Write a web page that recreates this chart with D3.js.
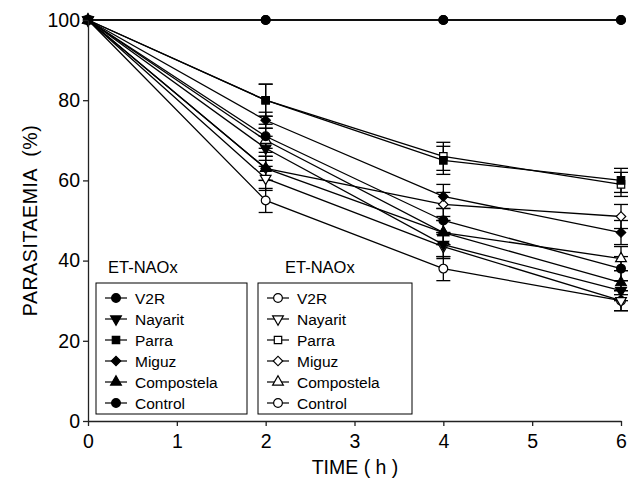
<!DOCTYPE html>
<html>
<head>
<meta charset="utf-8">
<script src="https://cdn.jsdelivr.net/npm/d3@7"></script>
<style>
  body { margin: 0; background: #fff; }
  text { font-family: "Liberation Sans", Arial, sans-serif; }
</style>
</head>
<body>
<div id="chart"></div>
<script>
// time points (h)
const times = [0, 2, 4, 6];
const names = ["V2R", "Nayarit", "Parra", "Miguz", "Compostela", "Control"];

// ET-NAOx filled markers
const filledV2R = [100, 71, 50, 38];
const filledNayarit = [100, 68, 44, 32.5];
const filledParra = [100, 80, 65, 60];
const filledMiguz = [100, 75, 56, 47];
const filledCompostela = [100, 63, 47, 34.5];
const filledControl = [100, 100, 100, 100];
// ET-NAOx open markers
const openV2R = [100, 55, 38, 30];
const openNayarit = [100, 60.5, 43.5, 30];
const openParra = [100, 80, 66, 59];
const openMiguz = [100, 63, 54, 51];
const openCompostela = [100, 70, 47, 40.5];
const openControl = [100, 100, 100, 100];
// error (+/-)
const errFilled = [[0, 3, 3, 3], [0, 3, 3, 2.5], [0, 4, 3.5, 3], [0, 2, 3, 3], [0, 3, 3, 3], [0, 0, 0, 0]];
const errOpen = [[0, 3, 3, 2.5], [0, 3, 3, 2.5], [0, 4, 3.5, 3], [0, 3, 3, 3], [0, 3, 3, 3], [0, 0, 0, 0]];

const yTicks = [0, 20, 40, 60, 80, 100];
const xTicks = [0, 1, 2, 3, 4, 5, 6];

const W = 630, H = 479;
const m = {l: 88, r: 9, t: 20, b: 58};

const svg = d3.select("#chart").append("svg")
  .attr("width", W).attr("height", H);

const x = d3.scaleLinear().domain([0, 6]).range([m.l, W - m.r]);
const y = d3.scaleLinear().domain([0, 100]).range([H - m.b, m.t]);

// "down" = rotated triangle, "diamond" = square turned 45deg
const shapes = [d3.symbolCircle, "down", d3.symbolSquare, "diamond", d3.symbolTriangle, d3.symbolCircle];
const sizes = [60, 50, 55, 45, 50, 60];

function rot(i) {
  return shapes[i] === "down" ? " rotate(180)" : shapes[i] === "diamond" ? " rotate(45)" : "";
}

function marker(sel, i, open) {
  const t = shapes[i];
  const type = t === "down" ? d3.symbolTriangle : t === "diamond" ? d3.symbolSquare : t;
  return sel.append("path")
    .attr("d", d3.symbol().type(type).size(sizes[i])())
    .attr("fill", open ? "#fff" : "#000")
    .attr("stroke", "#000").attr("stroke-width", 1.2);
}

const filled = [filledV2R, filledNayarit, filledParra, filledMiguz, filledCompostela, filledControl];
const open = [openV2R, openNayarit, openParra, openMiguz, openCompostela, openControl];

const series = [];
open.forEach((v, i) => series.push({v, i, open: true, err: errOpen[i]}));
filled.forEach((v, i) => series.push({v, i, open: false, err: errFilled[i]}));

const line = d3.line().x((d, k) => x(times[k])).y(d => y(d));

// lines
series.forEach(s => {
  svg.append("path").attr("d", line(s.v))
    .attr("fill", "none").attr("stroke", "#000").attr("stroke-width", 1.3);
});

// error bars
series.forEach(s => {
  s.v.forEach((d, k) => {
    const e = s.err[k];
    if (!e) return;
    const cx = x(times[k]);
    const g = svg.append("g").attr("stroke", "#000").attr("stroke-width", 1.3);
    g.append("line").attr("x1", cx).attr("x2", cx).attr("y1", y(d - e)).attr("y2", y(d + e));
    [d - e, d + e].forEach(b => g.append("line")
      .attr("x1", cx - 7).attr("x2", cx + 7).attr("y1", y(b)).attr("y2", y(b)));
  });
});

// markers
series.forEach(s => {
  s.v.forEach((d, k) => {
    const g = svg.append("g")
      .attr("transform", `translate(${x(times[k])},${y(d)})` + rot(s.i));
    marker(g, s.i, s.open);
  });
});

// axes
const xAxis = svg.append("g").attr("transform", `translate(0,${H - m.b})`)
  .call(d3.axisBottom(x).tickValues(xTicks).tickFormat(d3.format("d")).tickSize(5).tickSizeOuter(0));
const yAxis = svg.append("g").attr("transform", `translate(${m.l},0)`)
  .call(d3.axisLeft(y).tickValues(yTicks).tickSize(5).tickSizeOuter(0));
[xAxis, yAxis].forEach(a => {
  a.selectAll("path,line").attr("stroke", "#222").attr("stroke-width", 1.3);
  a.selectAll("text").attr("font-size", 19.5).attr("fill", "#000")
    .attr("font-family", "Liberation Sans, Arial, sans-serif");
});
xAxis.selectAll("text").attr("dy", "0.95em");

svg.append("text").attr("x", 355).attr("y", 474).attr("text-anchor", "middle")
  .attr("font-size", 19.5).attr("xml:space", "preserve").text("TIME ( h )");
svg.append("text").attr("transform", `translate(37,${(m.t + H - m.b) / 2}) rotate(-90)`)
  .attr("text-anchor", "middle").attr("font-size", 19.5).attr("xml:space", "preserve")
  .attr("letter-spacing", 0.6).text("PARASITAEMIA  (%)");

// legends
function legend(x0, x1, isOpen, titleX) {
  svg.append("text").attr("x", titleX).attr("y", 273).attr("font-size", 16.5).text("ET-NAOx");
  svg.append("rect").attr("x", x0).attr("y", 283).attr("width", x1 - x0).attr("height", 131)
    .attr("fill", "none").attr("stroke", "#000").attr("stroke-width", 1);
  names.forEach((n, i) => {
    const yy = 298 + i * 21;
    svg.append("line").attr("x1", x0 + 9).attr("x2", x0 + 31).attr("y1", yy).attr("y2", yy)
      .attr("stroke", "#000").attr("stroke-width", 1.2);
    const g = svg.append("g").attr("transform", `translate(${x0 + 20},${yy})` + rot(i));
    marker(g, i, isOpen);
    svg.append("text").attr("x", x0 + 39).attr("y", yy + 5.5).attr("font-size", 15.5).text(n);
  });
}
legend(96, 247, false, 108);
legend(258, 412, true, 285);
</script>
</body>
</html>
